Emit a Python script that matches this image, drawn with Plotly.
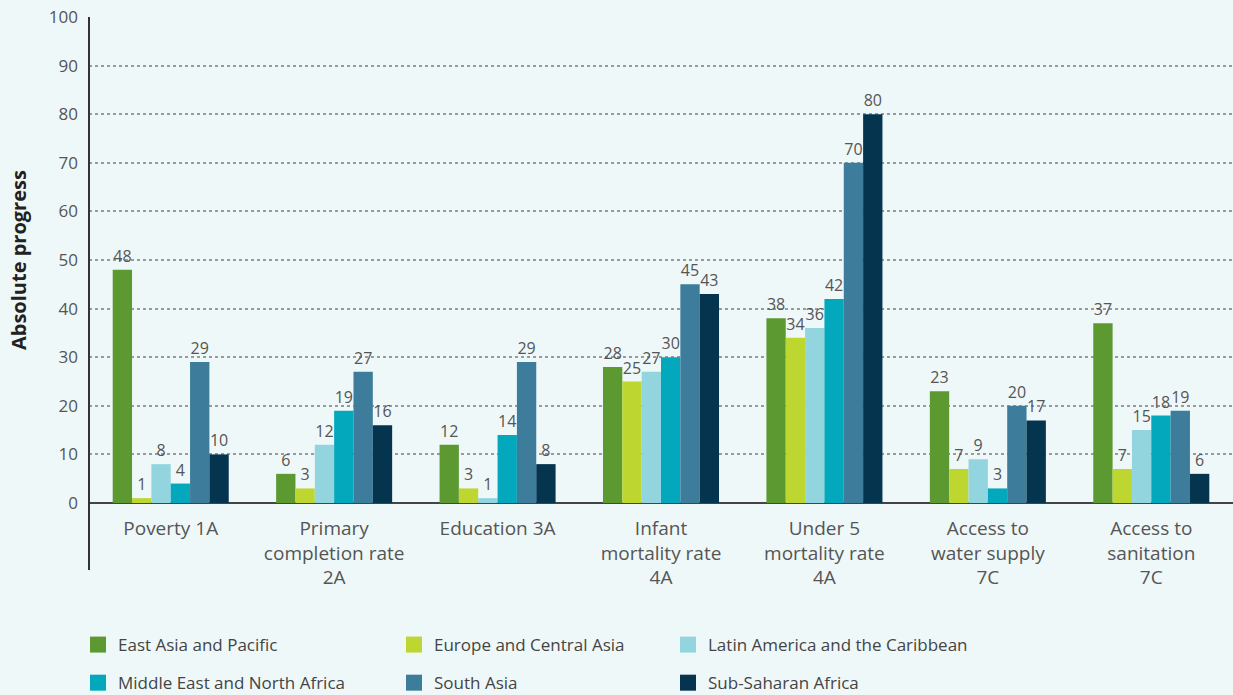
import plotly.graph_objects as go

categories = ["Poverty 1A", "Primary<br>completion rate<br>2A", "Education 3A",
              "Infant<br>mortality rate<br>4A", "Under 5<br>mortality rate<br>4A",
              "Access to<br>water supply<br>7C", "Access to<br>sanitation<br>7C"]
east_asia = [48, 6, 12, 28, 38, 23, 37]
europe = [1, 3, 3, 25, 34, 7, 7]
latin_america = [8, 12, 1, 27, 36, 9, 15]
middle_east = [4, 19, 14, 30, 42, 3, 18]
south_asia = [29, 27, 29, 45, 70, 20, 19]
sub_saharan = [10, 16, 8, 43, 80, 17, 6]

series = [
    ("East Asia and Pacific", east_asia, "#5c9a31", "legend"),
    ("Europe and Central Asia", europe, "#bdd630", "legend2"),
    ("Latin America and the Caribbean", latin_america, "#92d5df", "legend3"),
    ("Middle East and North Africa", middle_east, "#03a8bd", "legend"),
    ("South Asia", south_asia, "#3d7d9b", "legend2"),
    ("Sub-Saharan Africa", sub_saharan, "#05344f", "legend3"),
]

FONT = "Open Sans"
fig = go.Figure()
for name, vals, color, lg in series:
    fig.add_trace(go.Bar(
        x=categories, y=vals, name=name, marker_color=color, marker_line_width=0,
        text=[str(v) for v in vals], textposition="outside",
        textfont=dict(family=FONT, size=16, color="#555"),
        cliponaxis=False, showlegend=False, legendgroup=name,
    ))
# legend-only entries with larger square swatches
for name, vals, color, lg in series:
    fig.add_trace(go.Scatter(
        x=[None], y=[None], mode="markers", name=name, legend=lg, legendgroup=name,
        marker=dict(symbol="square", size=16, color=color, line_width=0),
    ))

bg = "#eff8f9"
legend_common = dict(orientation="v", yanchor="top", xanchor="left", y=0.0978,
                     xref="container", yref="container",
                     bgcolor="rgba(0,0,0,0)", font=dict(family=FONT, size=17, color="#444"),
                     tracegroupgap=13, itemwidth=30, traceorder="grouped", itemclick=False,
                     itemdoubleclick=False)

fig.update_layout(
    width=1233, height=695,
    paper_bgcolor=bg, plot_bgcolor=bg,
    margin=dict(l=89, r=0, t=17, b=192, autoexpand=False),
    barmode="group", bargap=0.29, bargroupgap=0,
    font=dict(family=FONT, color="#555"),
    xaxis=dict(showline=False, showgrid=False, ticks="", tickfont=dict(family=FONT, size=19, color="#555"),
               ticklabelstandoff=12, fixedrange=True),
    yaxis=dict(range=[0, 100], dtick=10, showgrid=True, gridcolor="#9a9a9a", griddash="dot", gridwidth=1.5,
               zeroline=True, zerolinecolor="#444", zerolinewidth=2, showline=False, fixedrange=True,
               tickfont=dict(family=FONT, size=17, color="#555"), ticks="", ticklabelstandoff=10),
    legend=dict(**legend_common, x=78 / 1233),
    legend2=dict(**legend_common, x=394 / 1233),
    legend3=dict(**legend_common, x=668 / 1233),
    showlegend=True,
)
fig.add_annotation(text="<b>Absolute progress</b>", xref="paper", yref="paper", x=-0.062, y=0.5,
                   textangle=-90, showarrow=False, xanchor="center", yanchor="middle",
                   font=dict(family=FONT, size=20, color="#222"))
fig.add_shape(type="line", xref="paper", yref="paper", x0=0, x1=0, y0=1, y1=-0.138,
              line=dict(color="#333", width=2))

fig.write_html("out.html", config={"displayModeBar": False},
               post_script="document.body.style.margin='0';document.body.style.overflow='hidden';document.body.style.background='%s';" % bg)
